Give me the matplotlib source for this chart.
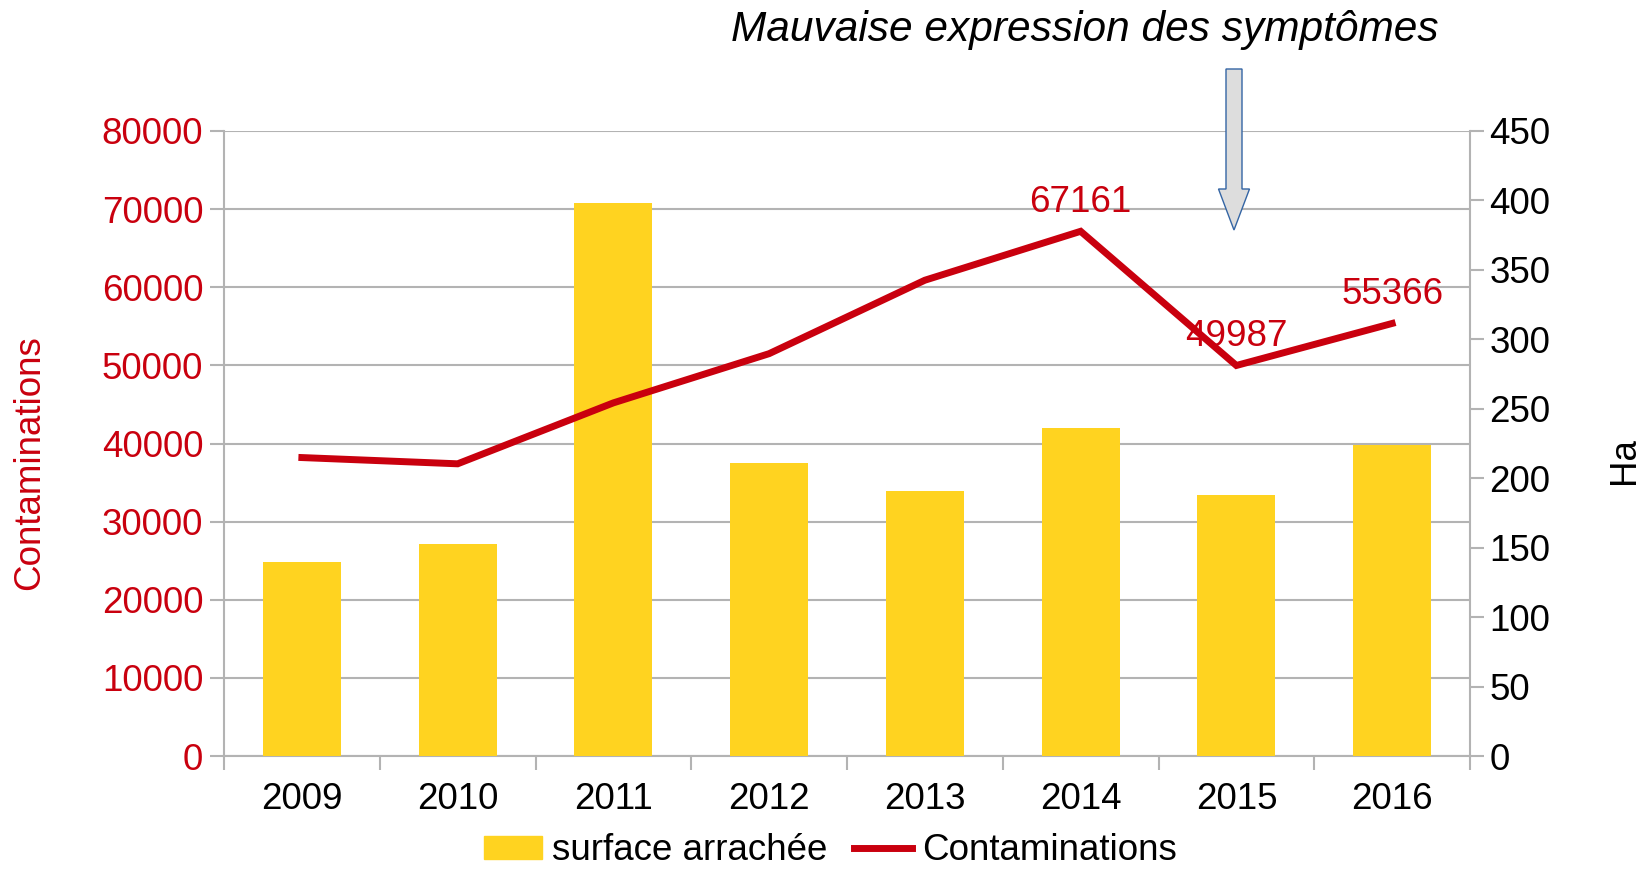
import matplotlib
matplotlib.use('Agg')
import matplotlib.pyplot as plt
from matplotlib.patches import Patch, Polygon
from matplotlib.lines import Line2D

plt.rcParams['font.family'] = ['Liberation Sans', 'DejaVu Sans']

years = ['2009', '2010', '2011', '2012', '2013', '2014', '2015', '2016']
surface_ha = [140, 153, 398, 211, 191, 236, 188, 224]  # Ha (right axis)
contaminations = [38200, 37400, 45200, 51500, 60900, 67161, 49987, 55366]
labelled = ['2014', '2015', '2016']

title = 'Mauvaise expression des symptômes'

yellow = '#FFD320'
red = '#C9000E'
grey = '#B3B3B3'
fs = 26.5

W, H = 1651, 869
fig = plt.figure(figsize=(W / 100, H / 100), dpi=100)
pos = [224 / W, 113 / H, 1246 / W, 625 / H]

# grid + left axis
ax = fig.add_axes(pos)
ax.set_ylim(0, 80000)
ax.set_yticks(range(0, 80001, 10000))
ax.grid(axis='y', color=grey, lw=1.5)
ax.set_axisbelow(True)
x = list(range(len(years)))
ax.set_xlim(-0.5, len(years) - 0.5)
ax.set_xticks(x)
ax.set_xticklabels(years)
ax.set_xticks([i - 0.5 for i in range(len(years) + 1)], minor=True)
ax.tick_params(axis='x', which='major', length=0, labelsize=fs, pad=19)
ax.tick_params(axis='x', which='minor', length=10, width=1.5, color=grey)
ax.tick_params(axis='y', length=10, width=1.5, color=grey, labelsize=fs,
               labelcolor=red, pad=5)
for s in ['top', 'right']:
    ax.spines[s].set_visible(False)
for s in ['left', 'bottom']:
    ax.spines[s].set_color(grey)
    ax.spines[s].set_linewidth(1.5)
ax.set_ylabel('Contaminations', fontsize=fs, color=red, va='center')
ax.yaxis.set_label_coords(-0.156, 0.469)

# bars on right axis
ax2 = ax.twinx()
ax2.bar(x, surface_ha, width=0.5, color=yellow, zorder=2)
ax2.set_ylim(0, 450)
ax2.set_yticks(range(0, 451, 50))
ax2.tick_params(axis='y', length=10, width=1.5, color=grey, labelsize=fs, pad=4)
for s in ['top', 'left', 'bottom']:
    ax2.spines[s].set_visible(False)
ax2.spines['right'].set_color(grey)
ax2.spines['right'].set_linewidth(1.5)
ax2.set_ylabel('Ha', fontsize=fs, rotation=90, va='center')
ax2.yaxis.set_label_coords(1.124, 0.472)

# line on top, same scale as left axis
ax3 = ax.twinx()
ax3.set_ylim(ax.get_ylim())
ax3.axis('off')
ax3.plot(x, contaminations, color=red, lw=5, solid_joinstyle='miter')
for i, (yr, v) in enumerate(zip(years, contaminations)):
    if yr in labelled:
        ax3.annotate(str(v), (i, v), xytext=(0, 21), textcoords='offset points',
                     ha='center', va='center', fontsize=fs, color=red)

# title and arrow
fig.text(1085 / W, 1 - 29.5 / H, title, fontsize=30.5, style='italic',
         ha='center', va='center')
cx = 1234
pts = [(cx - 8, 69), (cx + 8, 69), (cx + 8, 189), (cx + 15.5, 189), (cx, 230),
       (cx - 15.5, 189), (cx - 8, 189)]
fig.patches.append(Polygon([(px / W, 1 - py / H) for px, py in pts], closed=True,
                           transform=fig.transFigure, facecolor='#DDDDDD',
                           edgecolor='#3465A4', lw=1))

handles = [Patch(color=yellow), Line2D([], [], color=red, lw=5)]
fig.legend(handles, ['surface arrachée', 'Contaminations'], loc='center',
           bbox_to_anchor=(0.503, 0.021), ncol=2, frameon=False, fontsize=fs,
           handlelength=1.58, handleheight=0.6, handletextpad=0.27,
           columnspacing=0.73, borderpad=0, borderaxespad=0)

fig.savefig('out.png', dpi=100)
